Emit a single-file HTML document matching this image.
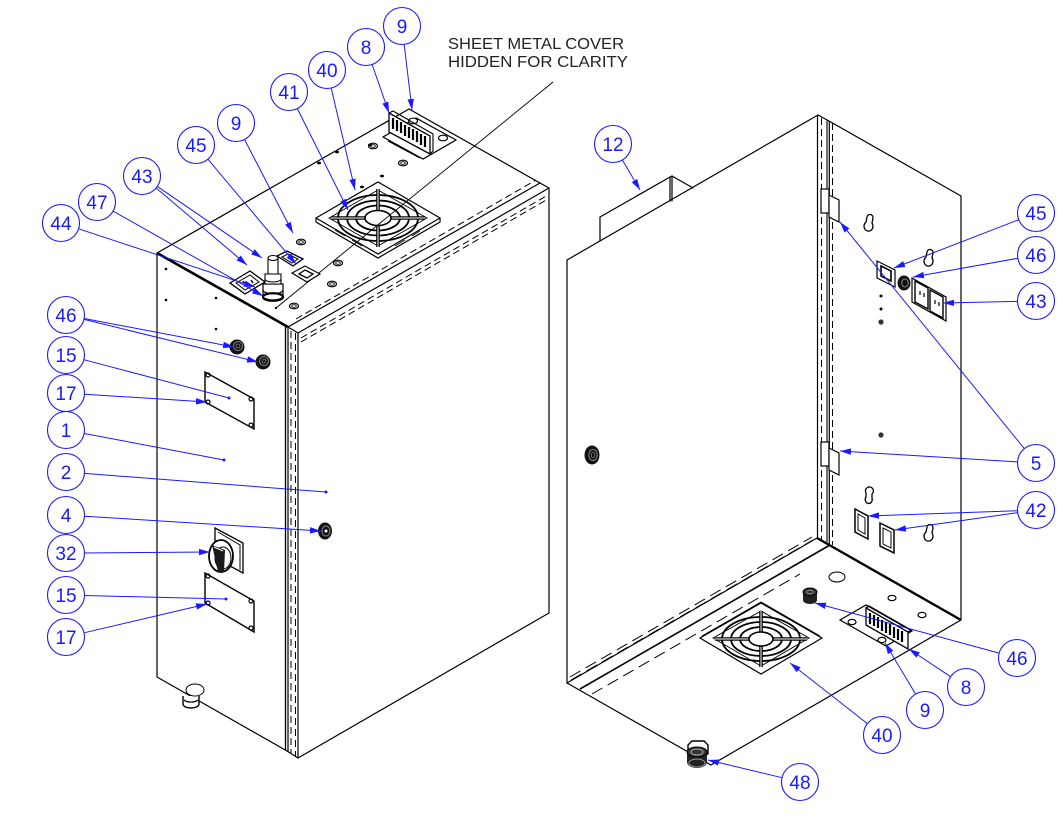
<!DOCTYPE html>
<html><head><meta charset="utf-8"><style>
html,body{margin:0;padding:0;background:#fff;}
svg{display:block;}
.k{stroke:#000;stroke-width:1.2;fill:none;stroke-linejoin:round;stroke-linecap:round}
.kt{stroke:#000;stroke-width:1;fill:none}
.kd{stroke:#000;stroke-width:1;fill:none;stroke-dasharray:7 4}
.kd2{stroke:#000;stroke-width:1;fill:none;stroke-dasharray:12 6}
.b{stroke:#1a1aff;stroke-width:1;fill:none}
.bc{stroke:#1a1aff;stroke-width:1.1;fill:#fff}
.bt{font-family:"Liberation Sans",sans-serif;font-size:19px;fill:#1a1aff;text-anchor:middle}
.hole{fill:#fff;stroke:#000;stroke-width:1.2}
</style></head><body>
<svg width="1063" height="818" viewBox="0 0 1063 818" xmlns="http://www.w3.org/2000/svg">
<defs>
<marker id="a" markerUnits="userSpaceOnUse" markerWidth="12" markerHeight="8" refX="11" refY="4" orient="auto"><path d="M0,0.8 L11,4 L0,7.2 Z" fill="#1a1aff"/></marker>
</defs>
<rect width="1063" height="818" fill="#fff"/>

<!-- ================= LEFT BOX ================= -->
<path class="k" d="M157,253 L409,109 L540,183"/>
<path d="M157,253 L288,327" stroke="#000" stroke-width="2.6" fill="none"/>
<path class="k" d="M288,327 L540,183 L549,188"/>
<path class="k" d="M288,327 L298,333 L549,188"/>
<path class="kd" d="M296,319 L536,180"/>
<path class="kd" d="M301,338 L548,195"/>
<path class="kd" d="M301,342 L548,199"/>
<path class="k" d="M549,188 L549,613 L298,758"/>
<path class="k" d="M157,253 L157,677 L287,751 L298,758"/>
<line x1="285.5" y1="327" x2="285.5" y2="750" stroke="#000" stroke-width="1.3"/>
<line x1="288" y1="328" x2="288" y2="752" stroke="#000" stroke-width="1.2"/>
<line x1="291" y1="331" x2="291" y2="753" class="kd"/>
<line x1="295.5" y1="333" x2="295.5" y2="756" class="kd"/>
<line x1="298" y1="333" x2="298" y2="758" stroke="#000" stroke-width="1.2"/>

<circle cx="166" cy="269" r="1.3"/><circle cx="166" cy="300" r="1.3"/>
<circle cx="216" cy="298" r="1.3"/><circle cx="216" cy="329" r="1.3"/>

<g>
<ellipse class="hole" cx="373" cy="146" rx="4.5" ry="2.8"/><ellipse cx="373" cy="146" rx="2.3" ry="1.3" fill="none" stroke="#000" stroke-width="0.8"/>
<ellipse class="hole" cx="403" cy="163" rx="4.5" ry="2.8"/><ellipse cx="403" cy="163" rx="2.3" ry="1.3" fill="none" stroke="#000" stroke-width="0.8"/>
<ellipse class="hole" cx="301" cy="242" rx="4.5" ry="2.8"/><ellipse cx="301" cy="242" rx="2.3" ry="1.3" fill="none" stroke="#000" stroke-width="0.8"/>
<ellipse class="hole" cx="338" cy="263" rx="4.5" ry="2.8"/><ellipse cx="338" cy="263" rx="2.3" ry="1.3" fill="none" stroke="#000" stroke-width="0.8"/>
<ellipse class="hole" cx="332" cy="284" rx="4.5" ry="2.8"/><ellipse cx="332" cy="284" rx="2.3" ry="1.3" fill="none" stroke="#000" stroke-width="0.8"/>
<ellipse class="hole" cx="294" cy="306" rx="4.5" ry="2.8"/><ellipse cx="294" cy="306" rx="2.3" ry="1.3" fill="none" stroke="#000" stroke-width="0.8"/>
<ellipse cx="337" cy="152" rx="2" ry="1.4" fill="#000"/>
<ellipse cx="319" cy="163" rx="2" ry="1.4" fill="#000"/>
<ellipse cx="382" cy="176" rx="2" ry="1.4" fill="#000"/>
<ellipse cx="362" cy="187" rx="2" ry="1.4" fill="#000"/>
<ellipse cx="370" cy="145" rx="2" ry="1.4" fill="#000"/>
<circle cx="276" cy="308" r="1.2" fill="#000"/>
</g>

<!-- top fan -->
<g>
<path d="M316,218 L316,222 L378,258 L440,222 L440,218" fill="#fff" stroke="#000" stroke-width="1.2"/>
<path d="M316,218 L378,182 L440,218 L378,254 Z" fill="#fff" stroke="#000" stroke-width="1.2"/>
<path d="M329,218 L378,190 L427,218 L378,246 Z" fill="none" stroke="#000" stroke-width="0.9"/>
<path d="M335,230 L345,236 M352,240 L362,246 M395,246 L405,240 M412,236 L420,231" stroke="#000" stroke-width="0.8" fill="none"/>
<ellipse cx="378" cy="218" rx="40" ry="23" fill="none" stroke="#000" stroke-width="1.8"/>
<ellipse cx="378" cy="218" rx="31" ry="17.5" fill="none" stroke="#000" stroke-width="1.8"/>
<ellipse cx="378" cy="218" rx="22" ry="12.5" fill="none" stroke="#000" stroke-width="1.8"/>
<line x1="331" y1="218" x2="425" y2="218" stroke="#000" stroke-width="3.6"/>
<line x1="331" y1="218" x2="425" y2="218" stroke="#fff" stroke-width="1"/>
<line x1="378" y1="189" x2="378" y2="247" stroke="#000" stroke-width="3.6"/>
<line x1="378" y1="189" x2="378" y2="247" stroke="#fff" stroke-width="1"/>
<ellipse cx="378" cy="218" rx="13" ry="7.5" fill="#fff" stroke="#000" stroke-width="1.6"/>
</g>

<line x1="553" y1="82" x2="276" y2="308" stroke="#000" stroke-width="0.9"/>

<!-- top bracket 8 -->
<g>
<path d="M383,137 L423,159 L456,140 L416,118 Z" fill="#fff" stroke="#000" stroke-width="1.2"/>
<path d="M388,141 L420,158" stroke="#000" stroke-width="1" fill="none"/>
<ellipse class="hole" cx="413" cy="121" rx="4.5" ry="2.8"/>
<ellipse class="hole" cx="443" cy="138" rx="4.5" ry="2.8"/>
<path d="M389,113 L430,136 L430,154 L389,132 Z" fill="#fff" stroke="#000" stroke-width="1.3"/>
<path d="M389,113 L393,111 L433,134 L433,151 L430,154" fill="none" stroke="#000" stroke-width="1.1"/>
<g stroke="#000" stroke-width="2.2">
<line x1="393" y1="118" x2="393" y2="129"/><line x1="397" y1="120" x2="397" y2="131"/>
<line x1="401" y1="122" x2="401" y2="133"/><line x1="405" y1="125" x2="405" y2="136"/>
<line x1="409" y1="127" x2="409" y2="138"/><line x1="413" y1="129" x2="413" y2="140"/>
<line x1="417" y1="131" x2="417" y2="142"/><line x1="421" y1="134" x2="421" y2="145"/>
<line x1="425" y1="136" x2="425" y2="147"/>
</g>
</g>

<!-- outlets 43 on top -->
<g>
<path d="M230,283 L250,271 L265,282 L245,294 Z" fill="#fff" stroke="#000" stroke-width="1.3"/>
<path d="M236,283 L250,275 L259,282 L245,290 Z" fill="none" stroke="#000" stroke-width="1"/>
<path d="M243,281 L245,284 M251,280 L253,283" stroke="#000" stroke-width="1.4"/>
<path d="M277,256 L287,251 L303,259 L293,266 Z" fill="#fff" stroke="#000" stroke-width="1.3"/>
<path d="M282,257 L288,254 L298,259 L292,263 Z" fill="none" stroke="#000" stroke-width="1"/>
<path d="M292,273 L305,266 L320,274 L307,282 Z" fill="#fff" stroke="#000" stroke-width="1.2"/>
<path d="M299,274 L305,270 L313,274 L307,278 Z" fill="#fff" stroke="#000" stroke-width="1.3"/>
<path d="M263,284 L263,296 A10,4 0 0 0 283,296 L283,284 Z" fill="#fff" stroke="#000" stroke-width="1.2"/>
<ellipse cx="273" cy="297" rx="10" ry="3.8" fill="none" stroke="#000" stroke-width="2.2"/>
<path d="M263,290 A10,3.8 0 0 0 283,290" fill="none" stroke="#000" stroke-width="1.2"/>
<path d="M265,274 L265,284 L281,284 L281,274 Z" fill="#fff" stroke="#000" stroke-width="1.1"/>
<path d="M265,279 A8,3 0 0 0 281,279" fill="none" stroke="#000" stroke-width="1"/>
<path d="M268,258 L268,274 L278,274 L278,258" fill="#fff" stroke="#000" stroke-width="1.1"/>
<ellipse cx="273" cy="258" rx="5" ry="2.5" fill="#fff" stroke="#000" stroke-width="1.1"/>
</g>

<!-- grommets 46 on left face -->
<g>
<ellipse cx="237" cy="347" rx="7.5" ry="7.5" fill="#111"/>
<ellipse cx="238" cy="346" rx="4.5" ry="4.5" fill="none" stroke="#888" stroke-width="1"/>
<ellipse cx="238" cy="346" rx="2" ry="2" fill="none" stroke="#888" stroke-width="0.8"/>
<ellipse cx="263" cy="362" rx="7.5" ry="7.5" fill="#111"/>
<ellipse cx="264" cy="361" rx="4.5" ry="4.5" fill="none" stroke="#888" stroke-width="1"/>
<ellipse cx="264" cy="361" rx="2" ry="2" fill="none" stroke="#888" stroke-width="0.8"/>
</g>

<!-- upper plate -->
<g>
<path d="M205,372 L254,399 L254,429 L205,402 Z" fill="#fff" stroke="#000" stroke-width="1.4"/>
<circle cx="208" cy="375" r="2" fill="none" stroke="#000" stroke-width="1.2"/>
<circle cx="251" cy="399" r="2" fill="none" stroke="#000" stroke-width="1.2"/>
<circle cx="251" cy="425" r="2" fill="none" stroke="#000" stroke-width="1.2"/>
<circle cx="208" cy="402" r="2" fill="none" stroke="#000" stroke-width="1.2"/>
</g>
<!-- switch 32 -->
<g>
<path d="M215,528 L243,543 L243,573 L215,558 Z" fill="#fff" stroke="#000" stroke-width="1.3"/>
<path d="M218,532 L240,545 L240,570" fill="none" stroke="#000" stroke-width="1"/>
<ellipse cx="221" cy="556" rx="12" ry="16" fill="#fff" stroke="#000" stroke-width="1.8"/>
<ellipse cx="223" cy="558" rx="8" ry="11" fill="none" stroke="#000" stroke-width="1"/>
<path d="M212,545 L225,550 L224,572 L218,572 Z" fill="#1a1a1a"/>
<path d="M214,547 L223,551" stroke="#fff" stroke-width="1"/>
</g>
<!-- lower plate -->
<g>
<path d="M205,573 L254,601 L254,632 L205,603 Z" fill="#fff" stroke="#000" stroke-width="1.4"/>
<circle cx="208" cy="576" r="2" fill="none" stroke="#000" stroke-width="1.2"/>
<circle cx="251" cy="601" r="2" fill="none" stroke="#000" stroke-width="1.2"/>
<circle cx="251" cy="628" r="2" fill="none" stroke="#000" stroke-width="1.2"/>
<circle cx="208" cy="603" r="2" fill="none" stroke="#000" stroke-width="1.2"/>
</g>
<!-- foot gland -->
<g>
<path d="M183,696 L183,704 A8,4 0 0 0 199,704 L199,696" fill="#fff" stroke="#000" stroke-width="1.4"/>
<path d="M184,700 A8,4 0 0 0 198,700" fill="none" stroke="#000" stroke-width="1.2"/>
<ellipse cx="195" cy="690" rx="9" ry="6" fill="#fff" stroke="#000" stroke-width="1"/>
</g>
<!-- grommet 4 -->
<ellipse cx="325" cy="531" rx="7" ry="8.5" fill="#111"/>
<ellipse cx="326" cy="531" rx="4" ry="5" fill="none" stroke="#888" stroke-width="1"/>
<circle cx="326" cy="531" r="1.5" fill="#fff"/>

<!-- ================= RIGHT BOX ================= -->
<path class="k" d="M567,683 L567,260 L818,115"/>
<path class="k" d="M567,683 L817,538"/>
<line x1="817.5" y1="115" x2="817.5" y2="538" stroke="#000" stroke-width="1.2"/>
<line x1="821.5" y1="118" x2="821.5" y2="540" class="kd"/>
<line x1="827" y1="120" x2="827" y2="542" stroke="#000" stroke-width="1.1"/>
<line x1="829.3" y1="121" x2="829.3" y2="544" stroke="#000" stroke-width="1.2"/>
<line x1="832.5" y1="123" x2="832.5" y2="545" class="kd"/>
<path class="k" d="M818,115 L829,121 L961,196 L961,620"/>
<path d="M817,538 L961,620" stroke="#000" stroke-width="2.4" fill="none"/>
<path class="k" d="M567,683 L711,765 L961,620"/>
<!-- hidden lines along bottom-front edge -->
<path class="kd2" d="M570,677 L812,537"/>
<path class="kd2" d="M571,680 L813,540"/>
<path d="M580,689 L830,545" stroke="#000" stroke-width="1.6" fill="none"/>
<path class="kd2" d="M592,694 L800,574"/>

<!-- item 12 -->
<path class="k" d="M600,241 L600,217 L670,177 L670,201"/>
<path class="k" d="M670,177 L672,176 L672,201 M672,176 L693,188"/>

<!-- hinges -->
<g fill="#fff" stroke="#000" stroke-width="1.2">
<rect x="821" y="189" width="8" height="24"/>
<path d="M829,195 L839,200 L839,222 L829,217 Z"/>
<rect x="821" y="442" width="8" height="24"/>
<path d="M829,448 L839,453 L839,475 L829,470 Z"/>
</g>

<!-- keyholes -->
<g fill="#fff" stroke="#000" stroke-width="1.3">
<path d="M867,217 A3,3 0 0 1 873,218 L872,223 A4.5,5 0 1 1 866,222 Z"/>
<path d="M927,252 A3,3 0 0 1 933,253 L932,258 A4.5,5 0 1 1 926,257 Z"/>
<path d="M866,493 A4,4 0 1 1 872,494 L872,498 A3.5,4 0 1 1 866,497 Z"/>
<path d="M927,527 A3,3 0 0 1 933,528 L932,533 A4.5,5 0 1 1 926,532 Z"/>
</g>

<!-- right face items -->
<path d="M877,261 L895,270 L895,287 L877,278 Z" fill="#fff" stroke="#000" stroke-width="1.2"/>
<path d="M881,266 L891,271 L891,281 L881,276 Z" fill="#fff" stroke="#000" stroke-width="1.6"/>
<ellipse cx="904" cy="283" rx="6.5" ry="7.5" fill="#111"/>
<ellipse cx="905" cy="283" rx="3.3" ry="4" fill="none" stroke="#888" stroke-width="1"/>
<path d="M912,278 L946,297 L946,321 L912,302 Z" fill="#fff" stroke="#000" stroke-width="1.2"/>
<path d="M915,281 L928,288 L928,309 L915,302 Z" fill="none" stroke="#000" stroke-width="1.4"/>
<path d="M930,290 L943,297 L943,318 L930,311 Z" fill="none" stroke="#000" stroke-width="1.4"/>
<path d="M920,291 L920,295 M924,293 L924,297 M935,300 L935,304 M939,302 L939,306" stroke="#000" stroke-width="1.2"/>
<circle cx="881" cy="296" r="1.5" fill="#000"/>
<circle cx="881" cy="309" r="1.5" fill="#000"/>
<circle cx="881" cy="322" r="2.6" fill="#333"/>
<circle cx="881" cy="435" r="2.6" fill="#333"/>
<path d="M855,509 L868,516 L868,539 L855,532 Z" fill="#fff" stroke="#000" stroke-width="1.5"/>
<path d="M858,514 L865,518 L865,534 L858,530 Z" fill="none" stroke="#000" stroke-width="1"/>
<path d="M880,523 L894,530 L894,553 L880,546 Z" fill="#fff" stroke="#000" stroke-width="1.5"/>
<path d="M883,528 L891,532 L891,548 L883,544 Z" fill="none" stroke="#000" stroke-width="1"/>
<!-- front-face grommet -->
<ellipse cx="592" cy="455" rx="7.5" ry="9.5" fill="#111"/>
<ellipse cx="593" cy="455" rx="4.2" ry="5.5" fill="none" stroke="#888" stroke-width="1"/>
<ellipse cx="593" cy="455" rx="1.8" ry="2.5" fill="none" stroke="#888" stroke-width="0.8"/>

<!-- bottom face items -->
<ellipse cx="837" cy="577" rx="8" ry="5" fill="#fff" stroke="#000" stroke-width="1"/>
<g>
<path d="M803,592 L803,600 A7,4 0 0 0 817,600 L817,592 Z" fill="#222"/>
<ellipse cx="810" cy="592" rx="7" ry="4" fill="#333" stroke="#000"/>
<ellipse cx="810" cy="592" rx="3" ry="1.8" fill="none" stroke="#999" stroke-width="0.8"/>
</g>
<ellipse class="hole" cx="892" cy="598" rx="4" ry="2.6"/>
<ellipse class="hole" cx="922" cy="615" rx="4" ry="2.6"/>
<g>
<path d="M840,620 L866,605 L912,631 L886,646 Z" fill="#fff" stroke="#000" stroke-width="1.2"/>
<ellipse class="hole" cx="852" cy="622" rx="4" ry="2.6"/>
<ellipse class="hole" cx="882" cy="640" rx="4" ry="2.6"/>
<path d="M866,608 L908,632 L908,649 L866,625 Z" fill="#fff" stroke="#000" stroke-width="1.3"/>
<path d="M866,608 L869,606 L911,630 L908,632" fill="none" stroke="#000" stroke-width="1.3"/>
<g stroke="#000" stroke-width="2.2">
<line x1="870" y1="613" x2="870" y2="624"/><line x1="874" y1="615" x2="874" y2="626"/>
<line x1="878" y1="617" x2="878" y2="628"/><line x1="882" y1="620" x2="882" y2="631"/>
<line x1="886" y1="622" x2="886" y2="633"/><line x1="890" y1="624" x2="890" y2="635"/>
<line x1="894" y1="627" x2="894" y2="638"/><line x1="898" y1="629" x2="898" y2="640"/>
<line x1="902" y1="631" x2="902" y2="642"/>
</g>
</g>
<!-- bottom fan -->
<g>
<path d="M700,638 L761,603 L822,638 L761,674 Z" fill="#fff" stroke="#000" stroke-width="1.2"/>
<path d="M702,636 L761,602 L820,636" fill="none" stroke="#000" stroke-width="0.9"/>
<path d="M713,638 L761,611 L809,638 L761,666 Z" fill="none" stroke="#000" stroke-width="0.9"/>
<ellipse cx="761" cy="639" rx="39" ry="22" fill="none" stroke="#000" stroke-width="1.8"/>
<ellipse cx="761" cy="639" rx="30" ry="17" fill="none" stroke="#000" stroke-width="1.8"/>
<ellipse cx="761" cy="639" rx="21" ry="12" fill="none" stroke="#000" stroke-width="1.8"/>
<line x1="715" y1="639" x2="807" y2="639" stroke="#000" stroke-width="3.6"/>
<line x1="715" y1="639" x2="807" y2="639" stroke="#fff" stroke-width="1"/>
<line x1="761" y1="611" x2="761" y2="667" stroke="#000" stroke-width="3.6"/>
<line x1="761" y1="611" x2="761" y2="667" stroke="#fff" stroke-width="1"/>
<ellipse cx="761" cy="639" rx="12" ry="7" fill="#fff" stroke="#000" stroke-width="1.6"/>
</g>
<!-- gland 48 -->
<g>
<path d="M688,745 L692,741 L704,741 L708,745 L708,754 L688,754 Z" fill="#fff" stroke="#000" stroke-width="1.4"/>
<path d="M687,752 L687,762 A10,6 0 0 0 707,762 L707,752 Z" fill="#222"/>
<ellipse cx="697" cy="752" rx="10" ry="5" fill="#333" stroke="#000"/>
<ellipse cx="697" cy="752" rx="6" ry="3" fill="none" stroke="#aaa" stroke-width="1"/>
<ellipse cx="697" cy="763" rx="8" ry="4" fill="none" stroke="#999" stroke-width="1"/>
</g>

<!-- ================= TEXT NOTE ================= -->
<text x="448" y="49" font-family="Liberation Sans, sans-serif" font-size="16" fill="#222" textLength="176" lengthAdjust="spacingAndGlyphs">SHEET METAL COVER</text>
<text x="448" y="67" font-family="Liberation Sans, sans-serif" font-size="16" fill="#222" textLength="180" lengthAdjust="spacingAndGlyphs">HIDDEN FOR CLARITY</text>

<!-- ================= LEADERS ================= -->
<g class="b">
<line x1="404.2" y1="44.4" x2="412" y2="110" marker-end="url(#a)"/>
<line x1="372.1" y1="64.5" x2="389" y2="113" marker-end="url(#a)"/>
<line x1="331.2" y1="88" x2="355" y2="190" marker-end="url(#a)"/>
<line x1="297.3" y1="108.5" x2="348" y2="210" marker-end="url(#a)"/>
<line x1="244.5" y1="139.4" x2="293" y2="233" marker-end="url(#a)"/>
<line x1="207.9" y1="159.2" x2="296" y2="264" marker-end="url(#a)"/>
<line x1="157.3" y1="186.4" x2="262" y2="258" marker-end="url(#a)"/>
<line x1="156.1" y1="188" x2="247" y2="265" marker-end="url(#a)"/>
<line x1="113.1" y1="211.1" x2="263" y2="296" marker-end="url(#a)"/>
<line x1="78.6" y1="228.8" x2="255" y2="287" marker-end="url(#a)"/>
<line x1="84.2" y1="318.5" x2="234" y2="347" marker-end="url(#a)"/>
<line x1="84" y1="319.4" x2="258" y2="362" marker-end="url(#a)"/>
<line x1="83.9" y1="359.7" x2="229" y2="398"/>
<line x1="84.5" y1="394.2" x2="207" y2="402" marker-end="url(#a)"/>
<line x1="84.2" y1="433.5" x2="224" y2="460"/>
<line x1="84.4" y1="473.4" x2="326" y2="492"/>
<line x1="84.5" y1="516.2" x2="321" y2="531" marker-end="url(#a)"/>
<line x1="84.5" y1="553" x2="210" y2="552" marker-end="url(#a)"/>
<line x1="84.5" y1="595.5" x2="226" y2="599"/>
<line x1="84" y1="632.8" x2="207" y2="604" marker-end="url(#a)"/>

<line x1="622.4" y1="160" x2="640" y2="190" marker-end="url(#a)"/>
<line x1="1018.8" y1="219.7" x2="894" y2="268" marker-end="url(#a)"/>
<line x1="1017.8" y1="258.3" x2="913" y2="277" marker-end="url(#a)"/>
<line x1="1017.5" y1="301.4" x2="943" y2="303" marker-end="url(#a)"/>
<line x1="1024.3" y1="448.6" x2="840" y2="222" marker-end="url(#a)"/>
<line x1="1017.5" y1="461.9" x2="840" y2="451" marker-end="url(#a)"/>
<line x1="1017.5" y1="510.7" x2="868" y2="516" marker-end="url(#a)"/>
<line x1="1017.7" y1="512.6" x2="895" y2="530" marker-end="url(#a)"/>
<line x1="999.1" y1="653.1" x2="815" y2="603" marker-end="url(#a)"/>
<line x1="950.6" y1="676.7" x2="909" y2="649" marker-end="url(#a)"/>
<line x1="915.6" y1="694" x2="885" y2="643" marker-end="url(#a)"/>
<line x1="867.4" y1="723.6" x2="790" y2="663" marker-end="url(#a)"/>
<line x1="782" y1="777.7" x2="708" y2="760" marker-end="url(#a)"/>
</g>
<g fill="#1a1aff">
<circle cx="229" cy="398" r="1.5"/><circle cx="224" cy="460" r="1.5"/>
<circle cx="326" cy="492" r="1.5"/><circle cx="226" cy="599" r="1.5"/>
</g>

<!-- ================= BALLOONS ================= -->
<g>
<circle class="bc" cx="402" cy="26" r="18.5"/><text class="bt" x="402" y="33">9</text>
<circle class="bc" cx="366" cy="47" r="18.5"/><text class="bt" x="366" y="54">8</text>
<circle class="bc" cx="327" cy="70" r="18.5"/><text class="bt" x="327" y="77">40</text>
<circle class="bc" cx="289" cy="92" r="18.5"/><text class="bt" x="289" y="99">41</text>
<circle class="bc" cx="236" cy="123" r="18.5"/><text class="bt" x="236" y="130">9</text>
<circle class="bc" cx="196" cy="145" r="18.5"/><text class="bt" x="196" y="152">45</text>
<circle class="bc" cx="142" cy="176" r="18.5"/><text class="bt" x="142" y="183">43</text>
<circle class="bc" cx="97" cy="202" r="18.5"/><text class="bt" x="97" y="209">47</text>
<circle class="bc" cx="61" cy="223" r="18.5"/><text class="bt" x="61" y="230">44</text>
<circle class="bc" cx="66" cy="315" r="18.5"/><text class="bt" x="66" y="322">46</text>
<circle class="bc" cx="66" cy="355" r="18.5"/><text class="bt" x="66" y="362">15</text>
<circle class="bc" cx="66" cy="393" r="18.5"/><text class="bt" x="66" y="400">17</text>
<circle class="bc" cx="66" cy="430" r="18.5"/><text class="bt" x="66" y="437">1</text>
<circle class="bc" cx="66" cy="472" r="18.5"/><text class="bt" x="66" y="479">2</text>
<circle class="bc" cx="66" cy="515" r="18.5"/><text class="bt" x="66" y="522">4</text>
<circle class="bc" cx="66" cy="553" r="18.5"/><text class="bt" x="66" y="560">32</text>
<circle class="bc" cx="66" cy="595" r="18.5"/><text class="bt" x="66" y="602">15</text>
<circle class="bc" cx="66" cy="637" r="18.5"/><text class="bt" x="66" y="644">17</text>

<circle class="bc" cx="613" cy="144" r="18.5"/><text class="bt" x="613" y="151">12</text>
<circle class="bc" cx="1036" cy="213" r="18.5"/><text class="bt" x="1036" y="220">45</text>
<circle class="bc" cx="1036" cy="255" r="18.5"/><text class="bt" x="1036" y="262">46</text>
<circle class="bc" cx="1036" cy="301" r="18.5"/><text class="bt" x="1036" y="308">43</text>
<circle class="bc" cx="1036" cy="463" r="18.5"/><text class="bt" x="1036" y="470">5</text>
<circle class="bc" cx="1036" cy="510" r="18.5"/><text class="bt" x="1036" y="517">42</text>
<circle class="bc" cx="1017" cy="658" r="18.5"/><text class="bt" x="1017" y="665">46</text>
<circle class="bc" cx="966" cy="687" r="18.5"/><text class="bt" x="966" y="694">8</text>
<circle class="bc" cx="925" cy="710" r="18.5"/><text class="bt" x="925" y="717">9</text>
<circle class="bc" cx="882" cy="735" r="18.5"/><text class="bt" x="882" y="742">40</text>
<circle class="bc" cx="800" cy="782" r="18.5"/><text class="bt" x="800" y="789">48</text>
</g>
</svg>
</body></html>
